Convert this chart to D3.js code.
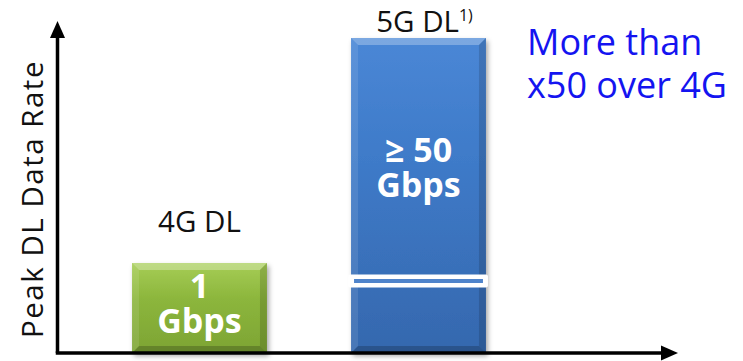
<!DOCTYPE html>
<html>
<head>
<meta charset="utf-8">
<script src="https://cdn.jsdelivr.net/npm/d3@7/dist/d3.min.js"></script>
<style>
  html, body { margin: 0; padding: 0; background: #fff; }
  svg { display: block; }
  text { font-family: "Open Sans", "Noto Sans", sans-serif; }
</style>
</head>
<body>
<svg id="chart" width="743" height="361"></svg>
<script>
// Peak downlink data rate, 4G vs 5G (Gbps)
const categories = ["4G DL", "5G DL"];
const footnotes = ["", "1)"];
const values = [1, 50];
const valueLines = [["1", "Gbps"], ["\u2265 50", "Gbps"]];
const axisTitle = "Peak DL Data Rate";
const callout = ["More than", "x50 over 4G"];
// value where the axis is broken on the taller bar
const breakValue = 0.8;

const palette = [
  { base: "#8cb63c", top: "#a6cd56", bottom: "#7da434" },
  { base: "#3e7ac8", top: "#4a87d6", bottom: "#3568ae" }
];

const svg = d3.select("#chart");
const x0 = 57.5, yBase = 353;

const x = d3.scaleBand()
  .domain(categories)
  .range([90, 528])
  .paddingInner(0.384)
  .paddingOuter(0.192);

// broken (piecewise) value scale: 0–1 stretched, 1–50 compressed
const y = d3.scaleLinear()
  .domain([0, 1, 50])
  .range([yBase, 263, 38]);

const defs = svg.append("defs");
const shadow = defs.append("filter").attr("id", "shadow")
  .attr("x", "-10%").attr("y", "-10%").attr("width", "130%").attr("height", "130%");
shadow.append("feDropShadow")
  .attr("dx", 2).attr("dy", 3).attr("stdDeviation", 2.5)
  .attr("flood-color", "#000").attr("flood-opacity", 0.35);

palette.forEach((p, i) => {
  const g = defs.append("linearGradient").attr("id", "body" + i)
    .attr("x1", 0).attr("y1", 0).attr("x2", 0).attr("y2", 1);
  g.append("stop").attr("offset", "0%").attr("stop-color", p.top);
  g.append("stop").attr("offset", "40%").attr("stop-color", p.base);
  g.append("stop").attr("offset", "100%").attr("stop-color", p.bottom);
});

const bev = 7;
const bars = svg.selectAll("g.bar")
  .data(values.map((v, i) => ({ v, i, c: categories[i] })))
  .join("g").attr("class", "bar");

bars.each(function(d) {
  const g = d3.select(this);
  const bx = x(d.c), bw = x.bandwidth();
  const top = y(d.v), bot = yBase;
  g.append("rect")
    .attr("x", bx).attr("y", top).attr("width", bw).attr("height", bot - top)
    .attr("fill", `url(#body${d.i})`)
    .attr("filter", "url(#shadow)");
  const facets = [
    { pts: [[bx, top], [bx + bw, top], [bx + bw - bev, top + bev], [bx + bev, top + bev]], fill: "#fff", op: 0.28 },
    { pts: [[bx, top], [bx + bev, top + bev], [bx + bev, bot - bev], [bx, bot]], fill: "#fff", op: 0.1 },
    { pts: [[bx + bw, top], [bx + bw, bot], [bx + bw - bev, bot - bev], [bx + bw - bev, top + bev]], fill: "#000", op: 0.14 },
    { pts: [[bx, bot], [bx + bev, bot - bev], [bx + bw - bev, bot - bev], [bx + bw, bot]], fill: "#000", op: 0.2 }
  ];
  g.selectAll("polygon").data(facets).join("polygon")
    .attr("points", f => f.pts.map(p => p.join(",")).join(" "))
    .attr("fill", f => f.fill).attr("fill-opacity", f => f.op);
});

// axis break on the 5G bar
{
  const c = categories[1];
  const yb = y(breakValue);
  svg.append("rect")
    .attr("x", x(c) - 3).attr("y", yb - 6.5)
    .attr("width", x.bandwidth() + 5).attr("height", 13)
    .attr("rx", 2).attr("fill", "#fff");
  svg.append("rect")
    .attr("x", x(c) + 3).attr("y", yb - 2)
    .attr("width", x.bandwidth() - 6).attr("height", 4)
    .attr("fill", "#4f84cb");
}

// value labels inside bars, one text per line
bars.each(function(d) {
  const g = d3.select(this);
  const cx = x(d.c) + x.bandwidth() / 2;
  const top = y(d.v);
  const baseY = d.i === 0 ? top + 35 : top + 124;
  valueLines[d.i].forEach((line, k) => {
    g.append("text")
      .attr("x", cx).attr("y", baseY + k * 35)
      .attr("text-anchor", "middle")
      .attr("fill", "#fff")
      .attr("font-weight", 700)
      .attr("font-size", 34)
      .text(line);
  });
});

// category labels above bars
categories.forEach((c, i) => {
  const cx = x(c) + x.bandwidth() / 2;
  const t = svg.append("text")
    .attr("x", cx + (footnotes[i] ? 6 : 0))
    .attr("y", i === 1 ? 32 : y(values[i]) - 31)
    .attr("text-anchor", "middle")
    .attr("font-size", 29.5)
    .attr("fill", "#111");
  t.append("tspan").text(c);
  if (footnotes[i]) {
    t.append("tspan").attr("font-size", 16).attr("dy", -11).text(footnotes[i]);
  }
});

// axes with arrowheads
const axis = svg.append("g").attr("fill", "#000").attr("stroke", "#000");
axis.append("line").attr("x1", x0).attr("y1", 36).attr("x2", x0).attr("y2", yBase)
  .attr("stroke-width", 3.5);
axis.append("line").attr("x1", x0 - 1.75).attr("y1", yBase).attr("x2", 664).attr("y2", yBase)
  .attr("stroke-width", 3.5);
axis.append("path").attr("stroke", "none")
  .attr("d", `M${x0},21 L${x0 + 7.5},38 L${x0 - 7.5},38 Z`);
axis.append("path").attr("stroke", "none")
  .attr("d", `M678,${yBase} L661,${yBase - 7.5} L661,${yBase + 7.5} Z`);

// axis title
svg.append("text")
  .attr("transform", `translate(43,199) rotate(-90)`)
  .attr("text-anchor", "middle")
  .attr("font-size", 29.5)
  .attr("letter-spacing", 1.5)
  .attr("fill", "#111")
  .text(axisTitle);

// callout
callout.forEach((line, k) => {
  svg.append("text")
    .attr("x", 527).attr("y", 55 + k * 43)
    .attr("font-size", 36)
    .attr("fill", "#1414f0")
    .text(line);
});
</script>
</body>
</html>
